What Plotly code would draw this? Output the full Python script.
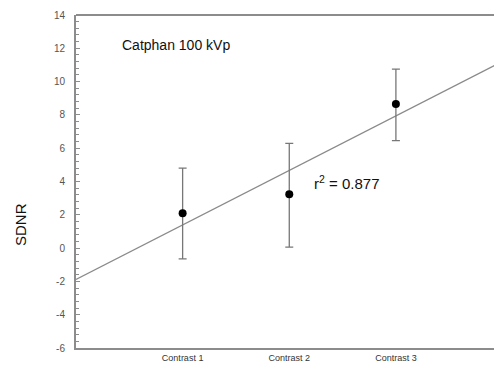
import numpy as np
import plotly.graph_objects as go

categories = ["Contrast 1", "Contrast 2", "Contrast 3"]
positions = [1, 2, 3]
sdnr = [2.1, 3.24, 8.65]
err_plus = [2.7, 3.05, 2.1]
err_minus = [2.75, 3.18, 2.2]
y_ticks = [-6, -4, -2, 0, 2, 4, 6, 8, 10, 12, 14]
y_tick_labels = ["-6", "-4", "-2", "0", "2", "4", "6", "8", "10", "12", "14"]
r2_text = "r<sup>2</sup> = 0.877"
title_text = "Catphan 100 kVp"

slope, intercept = np.polyfit(positions, sdnr, 1)
fit_x = [0, 4]
fit_y = [intercept + slope * v for v in fit_x]

fig = go.Figure()
fig.add_trace(go.Scatter(x=fit_x, y=fit_y, mode="lines",
                         line=dict(color="#8a8a8a", width=1.2),
                         showlegend=False, hoverinfo="skip"))
fig.add_trace(go.Scatter(x=positions, y=sdnr, mode="markers",
                         marker=dict(color="black", size=8),
                         error_y=dict(type="data", symmetric=False,
                                      array=err_plus, arrayminus=err_minus,
                                      color="#777777", thickness=1.3, width=4),
                         showlegend=False))

fig.update_layout(
    width=494, height=369,
    margin=dict(l=76, r=0, t=15, b=21),
    plot_bgcolor="white", paper_bgcolor="white",
    font=dict(family="Arial, Liberation Sans, sans-serif"),
    xaxis=dict(range=[0, 3.92], tickvals=positions, ticktext=categories,
               showgrid=False, zeroline=False, showline=True,
               linecolor="#8c8c8c", linewidth=2, mirror=False,
               ticks="", tickfont=dict(size=9, color="#333333")),
    yaxis=dict(range=[-6, 14], tickvals=y_ticks, ticktext=y_tick_labels,
               showgrid=False, zeroline=False, showline=True,
               linecolor="#8c8c8c", linewidth=2,
               ticks="inside", ticklen=4, tickcolor="#8c8c8c",
               minor=dict(dtick=0.4, ticks="inside", ticklen=3, tickcolor="#8c8c8c"),
               ticklabelstandoff=7,
               tickfont=dict(size=10, color="#555555")),
    shapes=[dict(type="line", xref="paper", yref="paper", x0=0, x1=1, y0=1, y1=1,
                 line=dict(color="#8c8c8c", width=2))],
    annotations=[
        dict(text=title_text, xref="paper", yref="paper", x=(120 - 76) / 418, y=(348 - 45) / 333,
             xanchor="left", yanchor="middle", showarrow=False,
             font=dict(size=14, color="#111111")),
        dict(text=r2_text, xref="paper", yref="paper", x=(312 - 76) / 418, y=(348 - 182) / 333,
             xanchor="left", yanchor="middle", showarrow=False,
             font=dict(size=15, color="#111111")),
        dict(text="SDNR", xref="paper", yref="paper", x=(20 - 76) / 418, y=(348 - 225) / 333,
             xanchor="center", yanchor="middle", textangle=-90, showarrow=False,
             font=dict(size=15, color="#111111")),
    ],
)
fig.write_html("out.html")
